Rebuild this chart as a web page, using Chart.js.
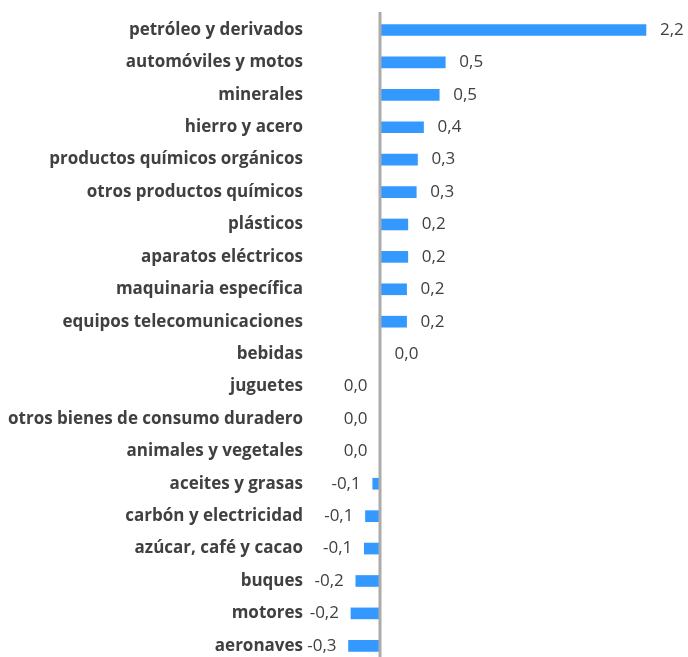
<!DOCTYPE html>
<html>
<head>
<meta charset="utf-8">
<script src="https://cdn.jsdelivr.net/npm/chart.js@4/dist/chart.umd.min.js"></script>
<style>
  html, body { margin: 0; padding: 0; background: #fff; overflow: hidden; }
  #wrap { width: 688px; height: 657px; }
</style>
</head>
<body>
<div id="wrap"><canvas id="chart"></canvas></div>
<script>
// categories, top to bottom
const categories = [
  'petróleo y derivados', 'automóviles y motos', 'minerales', 'hierro y acero',
  'productos químicos orgánicos', 'otros productos químicos', 'plásticos',
  'aparatos eléctricos', 'maquinaria específica', 'equipos telecomunicaciones',
  'bebidas', 'juguetes', 'otros bienes de consumo duradero', 'animales y vegetales',
  'aceites y grasas', 'carbón y electricidad', 'azúcar, café y cacao',
  'buques', 'motores', 'aeronaves'
];
// values
const values = [
  2.2, 0.54, 0.49, 0.36, 0.31, 0.30, 0.23, 0.23, 0.22, 0.22,
  0.005, -0.004, -0.004, -0.004, -0.06, -0.12, -0.13, -0.2, -0.24, -0.26
];

const fmt = v => (Math.abs(v) < 0.05 ? 0 : v).toFixed(1).replace('.', ',');

// grey zero line, runs past the plot area like the original
const zeroLine = {
  id: 'zeroLine',
  afterDatasetsDraw(chart) {
    const ctx = chart.ctx;
    const x = chart.scales.x.getPixelForValue(0);
    ctx.save();
    ctx.strokeStyle = '#ababab';
    ctx.lineWidth = 3;
    ctx.beginPath();
    ctx.moveTo(x, 12);
    ctx.lineTo(x, chart.height);
    ctx.stroke();
    ctx.restore();
  }
};

// value labels next to each bar
const barLabels = {
  id: 'barLabels',
  afterDraw(chart) {
    const ctx = chart.ctx;
    const meta = chart.getDatasetMeta(0);
    const zero = chart.scales.x.getPixelForValue(0);
    ctx.save();
    ctx.font = '17px "Open Sans"';
    ctx.fillStyle = '#404040';
    ctx.textBaseline = 'middle';
    meta.data.forEach((bar, i) => {
      const v = values[i];
      if (v >= 0) {
        ctx.textAlign = 'left';
        ctx.fillText(fmt(v), Math.max(bar.x, zero) + 14, bar.y);
      } else {
        ctx.textAlign = 'right';
        ctx.fillText(fmt(v), Math.min(bar.x, zero) - 12, bar.y);
      }
    });
    ctx.restore();
  }
};

new Chart(document.getElementById('chart'), {
  type: 'bar',
  data: {
    labels: categories,
    datasets: [{
      data: values,
      backgroundColor: '#3399ff',
      borderWidth: 0,
      barThickness: 11,
      clip: false
    }]
  },
  options: {
    indexAxis: 'y',
    responsive: true,
    maintainAspectRatio: false,
    animation: false,
    layout: { padding: { top: 30, bottom: 10, left: 0, right: 0 } },
    plugins: {
      legend: { display: false },
      tooltip: { enabled: false }
    },
    scales: {
      x: {
        display: false,
        min: -0.5624,
        max: 2.5475
      },
      y: {
        offset: false,
        grid: { display: false },
        border: { display: false },
        ticks: {
          autoSkip: false,
          padding: 1,
          color: '#404040',
          font: { family: 'Open Sans', size: 17, weight: 'bold' }
        },
        afterFit(scale) { scale.width = 312; }
      }
    }
  },
  plugins: [zeroLine, barLabels]
});
</script>
</body>
</html>
